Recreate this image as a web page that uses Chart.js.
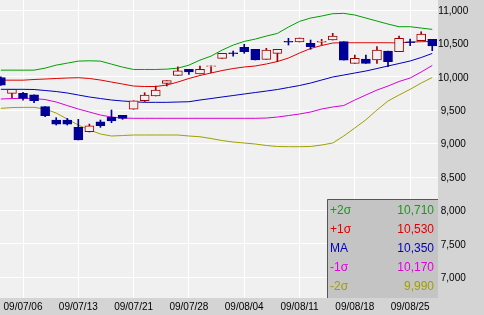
<!DOCTYPE html>
<html>
<head>
<meta charset="utf-8">
<script src="https://cdn.jsdelivr.net/npm/chart.js@4"></script>
<style>
  html, body { margin: 0; padding: 0; background: #d4d4d4; }
</style>
</head>
<body>
<canvas id="chart" width="484" height="315"></canvas>
<script>
// trading days, 2009/07/02 - 2009/08/27
const dates = [
  '09/07/02', '09/07/03', '09/07/06', '09/07/07', '09/07/08', '09/07/09', '09/07/10',
  '09/07/13', '09/07/14', '09/07/15', '09/07/16', '09/07/17',
  '09/07/21', '09/07/22', '09/07/23', '09/07/24', '09/07/27',
  '09/07/28', '09/07/29', '09/07/30', '09/07/31', '09/08/03',
  '09/08/04', '09/08/05', '09/08/06', '09/08/07', '09/08/10',
  '09/08/11', '09/08/12', '09/08/13', '09/08/14', '09/08/17',
  '09/08/18', '09/08/19', '09/08/20', '09/08/21', '09/08/24',
  '09/08/25', '09/08/26', '09/08/27'
];

const openPrices = [9990, 9753, 9753, 9732, 9553, 9353, 9353, 9244, 9178, 9328, 9394, 9423, 9514, 9642, 9713, 9903, 10022, 10112, 10042, 10155, 10277, 10358, 10442, 10412, 10262, 10352, 10530, 10521, 10501, 10520, 10551, 10526, 10202, 10266, 10252, 10386, 10376, 10522, 10541, 10561];
const highPrices = [10000, 9813, 9768, 9732, 9553, 9388, 9378, 9364, 9293, 9353, 9503, 9423, 9642, 9762, 9862, 9942, 10151, 10112, 10162, 10165, 10352, 10386, 10487, 10412, 10427, 10412, 10576, 10581, 10551, 10561, 10651, 10526, 10326, 10326, 10451, 10386, 10611, 10566, 10675, 10561];
const lowPrices = [9870, 9687, 9652, 9612, 9403, 9278, 9278, 9054, 9174, 9244, 9313, 9364, 9514, 9627, 9713, 9862, 10022, 10037, 10042, 10061, 10277, 10311, 10352, 10252, 10262, 10226, 10476, 10521, 10412, 10476, 10551, 10251, 10202, 10202, 10202, 10151, 10376, 10466, 10541, 10391];
const closePrices = [9875, 9813, 9678, 9642, 9418, 9293, 9293, 9054, 9268, 9268, 9338, 9379, 9642, 9728, 9802, 9942, 10091, 10072, 10112, 10165, 10352, 10348, 10376, 10252, 10401, 10412, 10520, 10581, 10451, 10530, 10611, 10251, 10277, 10202, 10401, 10226, 10576, 10512, 10641, 10461];

const plus2Sigma = [10100, 10100, 10100, 10100, 10130, 10175, 10205, 10235, 10240, 10235, 10190, 10145, 10110, 10110, 10110, 10115, 10130, 10175, 10250, 10310, 10400, 10475, 10530, 10565, 10610, 10650, 10745, 10830, 10880, 10910, 10945, 10950, 10925, 10880, 10835, 10790, 10750, 10750, 10730, 10710];
const plus1Sigma = [9950, 9950, 9950, 9960, 9967, 9975, 9982, 9987, 9975, 9952, 9922, 9892, 9862, 9855, 9855, 9877, 9922, 9975, 10020, 10057, 10094, 10124, 10147, 10162, 10192, 10229, 10281, 10356, 10424, 10469, 10506, 10510, 10510, 10510, 10510, 10510, 10506, 10521, 10525, 10530];
const movingAvg = [9813, 9813, 9813, 9810, 9795, 9780, 9758, 9728, 9698, 9675, 9653, 9638, 9627, 9618, 9618, 9618, 9623, 9627, 9653, 9675, 9698, 9720, 9743, 9765, 9787, 9810, 9840, 9870, 9907, 9952, 9997, 10027, 10057, 10087, 10124, 10162, 10199, 10237, 10289, 10350];
const minus1Sigma = [9668, 9675, 9678, 9675, 9660, 9623, 9570, 9518, 9473, 9428, 9398, 9383, 9379, 9379, 9379, 9379, 9379, 9379, 9379, 9379, 9379, 9379, 9379, 9379, 9383, 9398, 9420, 9443, 9473, 9518, 9548, 9570, 9653, 9728, 9802, 9862, 9930, 9982, 10072, 10170];
const minus2Sigma = [9528, 9540, 9543, 9543, 9518, 9458, 9368, 9279, 9204, 9144, 9114, 9121, 9129, 9129, 9129, 9129, 9129, 9114, 9103, 9076, 9046, 9024, 9009, 8994, 8972, 8957, 8954, 8954, 8957, 8979, 9009, 9114, 9234, 9357, 9503, 9638, 9728, 9813, 9907, 9990];

const bandNames = ['+2σ', '+1σ', 'MA', '-1σ', '-2σ'];
const bandColors = ['#00a000', '#e00000', '#0000c0', '#d800d8', '#a0a000'];
const legendColors = ['#1a9a1a', '#e00000', '#0000c0', '#e000e0', '#a0a000'];
const yTicks = [7000, 7500, 8000, 8500, 9000, 9500, 10000, 10500, 11000];
const xTickIdx = [2, 7, 12, 17, 22, 27, 32, 37];

const UP = '#a00000';
const DOWN = '#000099';
const PLOT_BG = '#f0f0f0';
const isUp = i => closePrices[i] >= openPrices[i];
const candleColor = ctx => isUp(ctx.dataIndex) ? UP : DOWN;
const fmt = v => v.toLocaleString('en-US');

function bandLine(values, color) {
  return {
    type: 'line',
    data: values.map((v, i) => ({ x: i, y: v })),
    borderColor: color,
    borderWidth: 1,
    pointRadius: 0,
    tension: 0,
    fill: false,
    order: 3
  };
}

const bands = [plus2Sigma, plus1Sigma, movingAvg, minus1Sigma, minus2Sigma];

const background = {
  id: 'background',
  beforeDraw(chart) {
    const { ctx, chartArea: a } = chart;
    ctx.save();
    ctx.fillStyle = '#d4d4d4';
    ctx.fillRect(0, 0, chart.width, chart.height);
    ctx.fillStyle = PLOT_BG;
    ctx.fillRect(a.left, a.top, a.right - a.left, a.bottom - a.top);
    ctx.restore();
  }
};

// value box in the lower right corner
const valueBox = {
  id: 'valueBox',
  afterDraw(chart) {
    const { ctx, chartArea: a } = chart;
    const left = 327, top = 199;
    ctx.save();
    ctx.fillStyle = '#c4c4c4';
    ctx.fillRect(left, top, a.right - left, a.bottom - top);
    ctx.strokeStyle = '#555555';
    ctx.lineWidth = 1;
    ctx.beginPath();
    ctx.moveTo(left + 0.5, a.bottom);
    ctx.lineTo(left + 0.5, top + 0.5);
    ctx.lineTo(a.right, top + 0.5);
    ctx.stroke();
    ctx.font = '12px "Liberation Sans", Arial, sans-serif';
    ctx.textBaseline = 'middle';
    bands.forEach((vals, i) => {
      const y = 211 + i * 19;
      ctx.fillStyle = legendColors[i];
      ctx.textAlign = 'left';
      ctx.fillText(bandNames[i], left + 3, y);
      ctx.textAlign = 'right';
      ctx.fillText(fmt(vals[vals.length - 1]), a.right - 4, y);
    });
    ctx.restore();
  }
};

new Chart(document.getElementById('chart'), {
  type: 'bar',
  data: {
    datasets: [
      ...bands.map((vals, i) => bandLine(vals, bandColors[i])),
      {
        data: dates.map((d, i) => ({ x: i, y: [lowPrices[i], highPrices[i]] })),
        backgroundColor: candleColor,
        borderWidth: 0,
        barThickness: 1,
        grouped: false,
        order: 2
      },
      {
        data: dates.map((d, i) => ({ x: i, y: [openPrices[i], closePrices[i]] })),
        backgroundColor: ctx => isUp(ctx.dataIndex) ? PLOT_BG : DOWN,
        borderColor: candleColor,
        borderWidth: 1,
        borderSkipped: false,
        barThickness: 9,
        grouped: false,
        order: 1
      }
    ]
  },
  options: {
    responsive: false,
    animation: false,
    layout: { padding: 0 },
    plugins: {
      legend: { display: false },
      tooltip: { enabled: false }
    },
    scales: {
      x: {
        type: 'linear',
        min: -0.08,
        max: 39.52,
        offset: false,
        afterBuildTicks: s => { s.ticks = xTickIdx.map(v => ({ value: v })); },
        afterFit: s => { s.height = 17; s.paddingLeft = 0; s.paddingRight = 0; },
        ticks: {
          callback: v => dates[v],
          color: '#000',
          font: { family: '"Liberation Sans", Arial, sans-serif', size: 10 },
          padding: 3,
          maxRotation: 0,
          autoSkip: false
        },
        grid: { color: '#ffffff', lineWidth: 1, drawTicks: false, offset: false },
        border: { display: false }
      },
      y: {
        type: 'linear',
        position: 'right',
        min: 6689,
        max: 11150,
        afterBuildTicks: s => { s.ticks = yTicks.map(v => ({ value: v })); },
        afterFit: s => { s.width = 46; s.paddingTop = 0; s.paddingBottom = 0; },
        ticks: {
          callback: v => fmt(v),
          color: '#000',
          crossAlign: 'center',
          labelOffset: 1,
          font: { family: '"Liberation Sans", Arial, sans-serif', size: 10 },
          padding: 0
        },
        grid: { color: '#ffffff', lineWidth: 1, drawTicks: false },
        border: { display: false }
      }
    }
  },
  plugins: [background, valueBox]
});
</script>
</body>
</html>
